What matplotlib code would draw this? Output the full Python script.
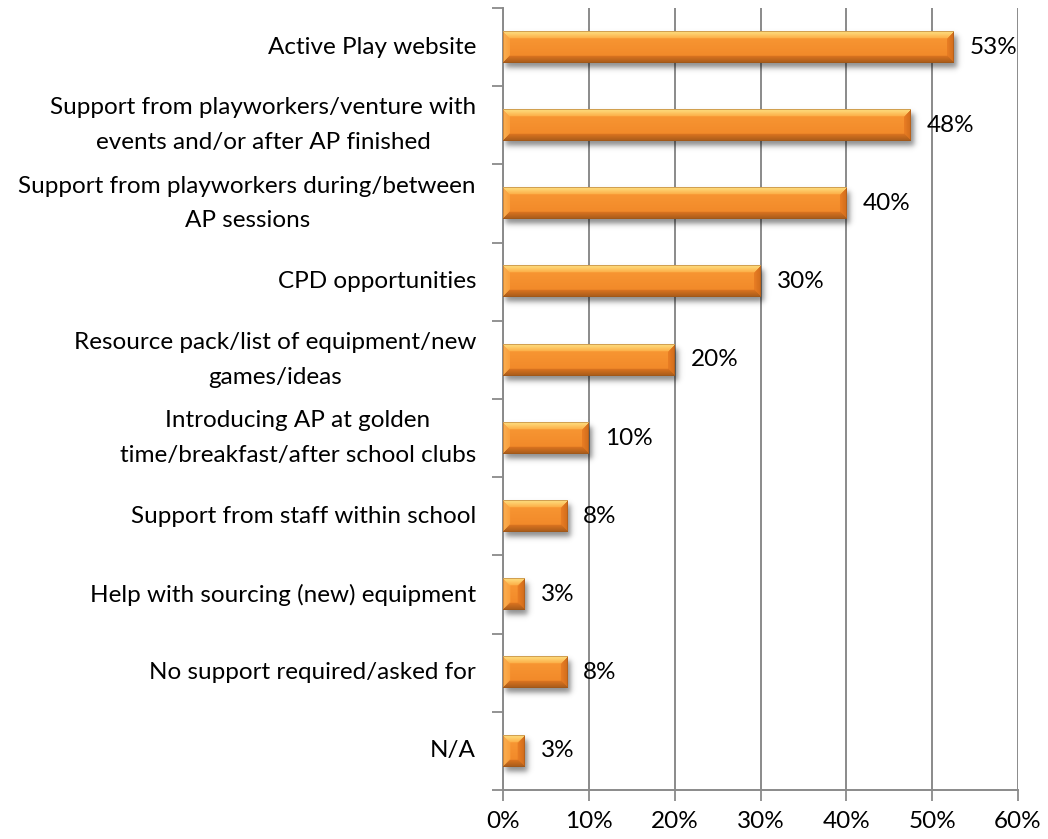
import numpy as np
import matplotlib
matplotlib.use("Agg")
import matplotlib.pyplot as plt

# Survey responses: share of schools naming each kind of support (%)
categories = [
    "Active Play website",
    "Support from playworkers/venture with\nevents and/or after AP finished",
    "Support from playworkers during/between\nAP sessions",
    "CPD opportunities",
    "Resource pack/list of equipment/new\ngames/ideas",
    "Introducing AP at golden\ntime/breakfast/after school clubs",
    "Support from staff within school",
    "Help with sourcing (new) equipment",
    "No support required/asked for",
    "N/A",
]
values = [52.5, 47.5, 40.0, 30.0, 20.0, 10.0, 7.5, 2.5, 7.5, 2.5]
x_ticks = [0, 10, 20, 30, 40, 50, 60]
x_tick_labels = ["0%", "10%", "20%", "30%", "40%", "50%", "60%"]

FONT = ["Lato", "DejaVu Sans"]
plt.rcParams["font.family"] = FONT
FS = 17.5

W, H, DPI = 1048, 839, 100
fig = plt.figure(figsize=(W / DPI, H / DPI), dpi=DPI)
ax_l, ax_r, ax_t, ax_b = 503, 1018, 8, 790
ax = fig.add_axes([ax_l / W, 1 - ax_b / H, (ax_r - ax_l) / W, (ax_b - ax_t) / H])

n = len(categories)
xmax = 60
ax.set_xlim(0, xmax)
ax.set_ylim(n - 0.5, -0.5)

px_per_x = (ax_r - ax_l) / xmax
px_per_y = (ax_b - ax_t) / n

GRID = "#8a8a8a"
# gridlines and axes
ax.set_xticks(x_ticks)
ax.set_xticklabels(x_tick_labels, fontsize=FS, color="#000000")
ax.set_yticks(np.arange(-0.5, n, 1.0))
ax.set_yticklabels([])
ax.tick_params(axis="x", direction="out", length=8, width=1.3, color=GRID, pad=7)
ax.tick_params(axis="y", direction="out", length=8, width=1.3, color=GRID)
ax.xaxis.grid(True, color=GRID, linewidth=1.4)
ax.set_axisbelow(True)
for side in ("top", "right"):
    ax.spines[side].set_visible(False)
for side in ("left", "bottom"):
    ax.spines[side].set_color(GRID)
    ax.spines[side].set_linewidth(1.4)


def hex2rgb(h):
    h = h.lstrip("#")
    return np.array([int(h[i:i + 2], 16) / 255 for i in (0, 2, 4)])


def lerp(c0, c1, t):
    t = np.clip(t, 0, 1)[..., None]
    return c0 * (1 - t) + c1 * t


def bevel_bar(w_px, h_px, bevel):
    """RGBA image of a bevelled orange bar."""
    w_px = max(int(round(w_px)), 2)
    h_px = max(int(round(h_px)), 2)
    yy, xx = np.mgrid[0:h_px, 0:w_px].astype(float)
    yy += 0.5
    xx += 0.5
    dt, db = yy, h_px - yy
    dl, dr = xx, w_px - xx
    d = np.stack([dt, db, dl, dr])
    nearest = np.argmin(d, axis=0)
    dmin = np.min(d, axis=0)

    face = lerp(hex2rgb("#F99A36"), hex2rgb("#F08526"), yy / h_px)
    img = face.copy()
    inb = dmin < bevel
    t = dmin / bevel
    top = lerp(hex2rgb("#FFE385"), hex2rgb("#FCAE46"), t)
    bot = lerp(hex2rgb("#A45A1A"), hex2rgb("#DC7420"), t)
    lft = lerp(hex2rgb("#FBB052"), hex2rgb("#F99E3C"), t)
    rgt = lerp(hex2rgb("#D06C1C"), hex2rgb("#EA7E24"), t)
    for k, col in enumerate([top, bot, lft, rgt]):
        m = inb & (nearest == k)
        img[m] = col[m]
    # thin outline
    edge = dmin < 1.0
    img[edge] = img[edge] * 0.55 + hex2rgb("#9A5418") * 0.45
    rgba = np.dstack([img, np.ones((h_px, w_px))])
    return rgba


def soft_shadow(w_px, h_px, blur):
    """Alpha map of a blurred rectangle used as a drop shadow."""
    pad = int(3 * blur)
    Wt, Ht = int(w_px) + 2 * pad, int(h_px) + 2 * pad
    yy, xx = np.mgrid[0:Ht, 0:Wt].astype(float)
    def ramp(a, lo, hi):
        return 1 / (1 + np.exp(-(a - lo) / (blur / 2.5))) * 1 / (1 + np.exp((a - hi) / (blur / 2.5)))
    a = ramp(xx, pad, pad + w_px) * ramp(yy, pad, pad + h_px)
    rgba = np.zeros((Ht, Wt, 4))
    rgba[..., 3] = a * 0.45
    return rgba, pad


bar_h = 0.40
bevel_px = 7
for i, v in enumerate(values):
    w_px = v * px_per_x
    h_px = bar_h * px_per_y
    # drop shadow
    sh, pad = soft_shadow(w_px, h_px, 4)
    ox, oy = 2.0, 4.0
    ax.imshow(sh, extent=((-pad + ox) / px_per_x, (w_px + pad + ox) / px_per_x,
                          i + bar_h / 2 + (pad + oy) / px_per_y,
                          i - bar_h / 2 - (pad - oy) / px_per_y),
              aspect="auto", interpolation="bilinear", zorder=2)
    img = bevel_bar(w_px, h_px, bevel_px)
    ax.imshow(img, extent=(0, v, i + bar_h / 2, i - bar_h / 2),
              aspect="auto", interpolation="bilinear", zorder=3)
    ax.text(v + 16 / px_per_x, i, f"{int(v + 0.5)}%", ha="left", va="center",
            fontsize=FS, color="#000000", zorder=4)
    ax.text(-27 / px_per_x, i, categories[i], ha="right", va="center",
            multialignment="center", fontsize=FS, color="#000000",
            linespacing=1.8, clip_on=False)

ax.set_xlim(0, xmax)
ax.set_ylim(n - 0.5, -0.5)

fig.savefig("out.png", dpi=DPI)
